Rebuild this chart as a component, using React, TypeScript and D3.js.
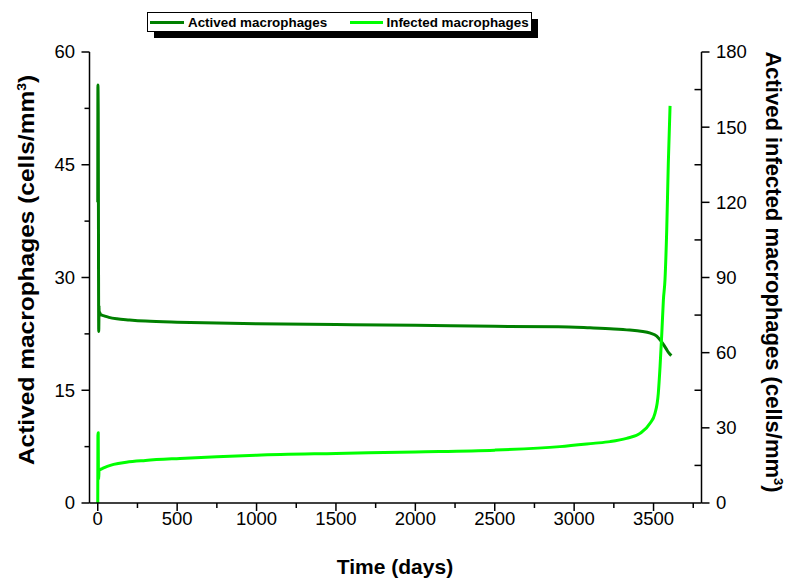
import React from "react";
import * as d3 from "d3";

const activeT = [0, 1, 3, 5, 6, 7, 8, 9, 11, 15, 25, 40, 70, 120, 200, 300, 500, 750, 1000, 1500, 2000, 2500, 2900, 3100, 3250, 3350, 3420, 3480, 3520, 3545, 3565, 3580, 3595, 3612];
const activeV = [40, 55.6, 52, 30, 22.8, 24, 26.3, 24.8, 25.4, 25.2, 25.0, 24.9, 24.7, 24.5, 24.35, 24.2, 24.05, 23.95, 23.85, 23.75, 23.65, 23.5, 23.45, 23.3, 23.15, 23.0, 22.85, 22.6, 22.2, 21.6, 21.0, 20.5, 20.0, 19.6];

const infectT = [0, 1, 3, 4, 6, 8, 12, 20, 33, 60, 100, 180, 300, 518, 750, 1000, 1500, 2000, 2500, 2910, 3120, 3226, 3330, 3415, 3478, 3509, 3530, 3541, 3552, 3562, 3572, 3583, 3593, 3604];
const infectV = [0, 27, 28, 12, 9.5, 13.5, 13.2, 13.5, 13.9, 14.6, 15.4, 16.3, 17.0, 17.8, 18.5, 19.1, 19.8, 20.4, 21.1, 22.5, 23.8, 24.5, 25.8, 27.8, 31.8, 35.8, 43.8, 54.4, 67.7, 81, 89, 109, 135.6, 158.5];

const xTicks = [0, 500, 1000, 1500, 2000, 2500, 3000, 3500];
const xMinor = [250, 750, 1250, 1750, 2250, 2750, 3250, 3750];
const leftTicks = [0, 15, 30, 45, 60];
const leftMinor = [7.5, 22.5, 37.5, 52.5];
const rightTicks = [0, 30, 60, 90, 120, 150, 180];
const rightMinor = [15, 45, 75, 105, 135, 165];

const seriesNames = ["Actived macrophages", "Infected macrophages"];
const DARK = "#008000";
const LIGHT = "#00ff00";

const W = 791, H = 581;
const L = 89.5, R = 701.5, T = 52, B = 503;
const FONT = "Arial, 'Liberation Sans', sans-serif";

export default function App() {
  const x = d3.scaleLinear().domain([-52, 3802]).range([L, R]);
  const yL = d3.scaleLinear().domain([0, 60]).range([B, T]);
  const yR = d3.scaleLinear().domain([0, 180]).range([B, T]);

  const activeData = activeT.map((t, i) => [t, activeV[i]] as [number, number]);
  const infectData = infectT.map((t, i) => [t, infectV[i]] as [number, number]);

  const lineA = d3.line<[number, number]>().x(d => x(d[0])).y(d => yL(d[1])).curve(d3.curveMonotoneX);
  const lineI = d3.line<[number, number]>().x(d => x(d[0])).y(d => yR(d[1])).curve(d3.curveMonotoneX);

  return (
    <svg width={W} height={H} style={{ position: "absolute", left: 0, top: 0, background: "#fff" }} fontFamily={FONT}>
      <defs>
        <clipPath id="clip">
          <rect x={L} y={T - 5} width={R - L} height={B - T + 5} />
        </clipPath>
      </defs>
      {/* series */}
      <g clipPath="url(#clip)">
        <path d={lineA(activeData) || ""} fill="none" stroke={DARK} strokeWidth={3} strokeLinejoin="round" />
        <path d={lineI(infectData) || ""} fill="none" stroke={LIGHT} strokeWidth={3} strokeLinejoin="round" />
      </g>

      {/* axes lines */}
      <g stroke="#000" strokeWidth={1.5}>
        <line x1={L} x2={L} y1={T} y2={B} />
        <line x1={R} x2={R} y1={T} y2={B} />
        <line x1={L} x2={R} y1={B} y2={B} />
      </g>

      {/* ticks */}
      <g stroke="#000" strokeWidth={1.5}>
        {xTicks.map(t => <line key={"xt" + t} x1={x(t)} x2={x(t)} y1={B} y2={B + 8} />)}
        {xMinor.map(t => <line key={"xm" + t} x1={x(t)} x2={x(t)} y1={B} y2={B + 5} />)}
        {leftTicks.map(t => <line key={"lt" + t} x1={L - 8} x2={L} y1={yL(t)} y2={yL(t)} />)}
        {leftMinor.map(t => <line key={"lm" + t} x1={L - 5} x2={L} y1={yL(t)} y2={yL(t)} />)}
        {rightTicks.map(t => <line key={"rt" + t} x1={R} x2={R + 8} y1={yR(t)} y2={yR(t)} />)}
        {rightMinor.map(t => <line key={"rm" + t} x1={R - 7} x2={R} y1={yR(t)} y2={yR(t)} />)}
      </g>

      {/* tick labels */}
      <g fontSize={18.5} fill="#000">
        {xTicks.map(t => (
          <text key={"xl" + t} x={x(t)} y={525} textAnchor="middle">{t}</text>
        ))}
        {leftTicks.map(t => (
          <text key={"ll" + t} x={75} y={yL(t)} dy="0.35em" textAnchor="end">{t}</text>
        ))}
        {rightTicks.map(t => (
          <text key={"rl" + t} x={716} y={yR(t)} dy="0.35em" textAnchor="start">{t}</text>
        ))}
      </g>

      {/* axis titles */}
      <text x={395} y={574} textAnchor="middle" fontWeight="bold" fontSize={21}>Time (days)</text>
      <text transform={`translate(34,${270}) rotate(-90) scale(1,0.9)`} textAnchor="middle" fontWeight="bold" fontSize={24.5}>
        Actived macrophages (cells/mm<tspan dy="-9" fontSize={14}>3</tspan><tspan dy="9">)</tspan>
      </text>
      <text transform={`translate(766,${272}) rotate(90)`} textAnchor="middle" fontWeight="bold" fontSize={22}>
        Actived infected macrophages (cells/mm<tspan dy="-8" fontSize={13}>3</tspan><tspan dy="8">)</tspan>
      </text>

      {/* legend */}
      <rect x={154} y={19} width={384} height={19} fill="#000" />
      <rect x={147.5} y={12.5} width={384} height={19} fill="#fff" stroke="#000" strokeWidth={1} />
      <line x1={150} x2={184} y1={22.5} y2={22.5} stroke={DARK} strokeWidth={3} />
      <text x={188} y={27.3} fontWeight="bold" fontSize={13.4}>{seriesNames[0]}</text>
      <line x1={350} x2={383} y1={22.5} y2={22.5} stroke={LIGHT} strokeWidth={3} />
      <text x={386.5} y={27.3} fontWeight="bold" fontSize={13.4}>{seriesNames[1]}</text>
    </svg>
  );
}
